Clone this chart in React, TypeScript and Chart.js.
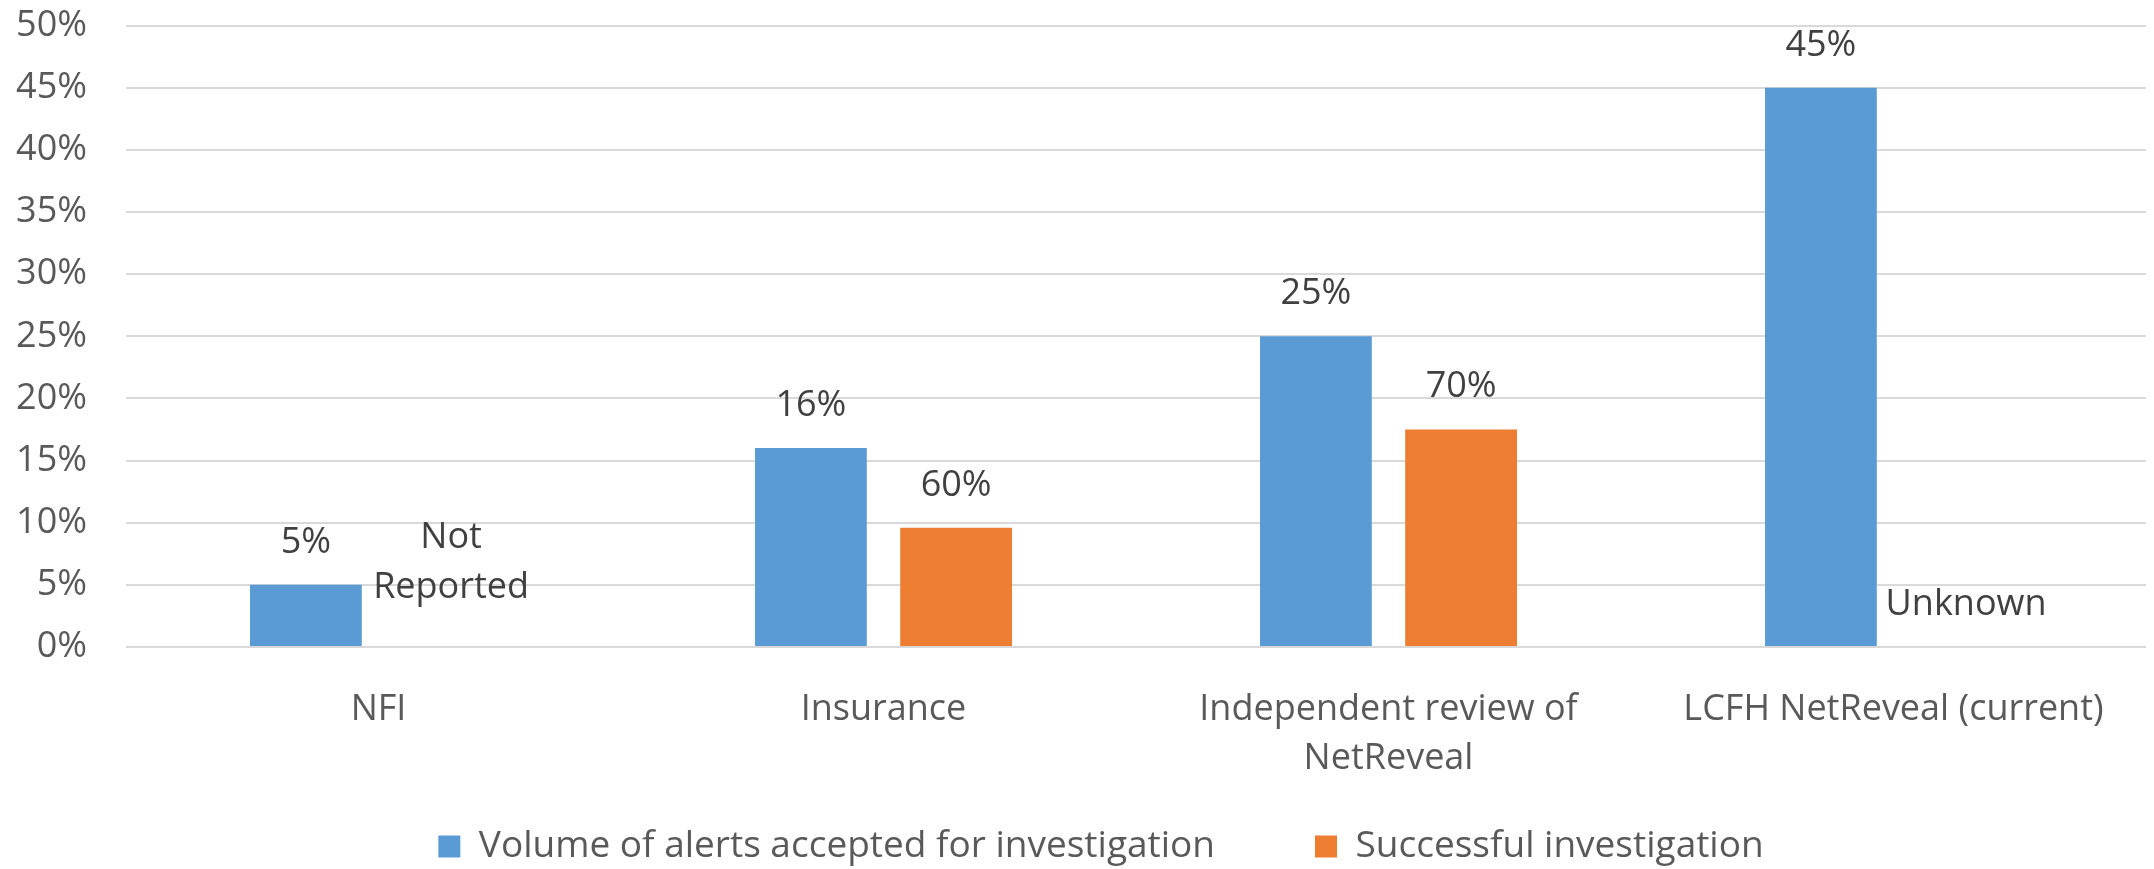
import React, { useEffect, useRef } from "react";
import { Chart, registerables } from "chart.js";

Chart.register(...registerables);

const categories: (string | string[])[] = [
  "NFI",
  "Insurance",
  ["Independent review of", "NetReveal"],
  "LCFH NetReveal (current)",
];
const volumeValues = [5, 16, 25, 45];
const volumeLabels: (string | string[])[] = ["5%", "16%", "25%", "45%"];
const successValues = [0, 9.6, 17.5, 0];
const successLabels: (string | string[])[] = [["Not", "Reported"], "60%", "70%", "Unknown"];
const seriesNames = ["Volume of alerts accepted for investigation", "Successful investigation"];
const yTicks = { min: 0, max: 50, step: 5 };

const FONT = "'Open Sans', 'Noto Sans', sans-serif";

const dataLabelPlugin = {
  id: "dataLabels",
  afterLayout(chart: any) {
    // widen label clip areas so tick text is not cut
    chart.scales.y.left = 0;
    chart.scales.x.bottom = chart.height;
  },
  afterDatasetsDraw(chart: any) {
    const ctx = chart.ctx;
    const allLabels = [volumeLabels, successLabels];
    ctx.save();
    ctx.font = `36px ${FONT}`;
    ctx.fillStyle = "#404040";
    ctx.textAlign = "center";
    ctx.textBaseline = "alphabetic";
    chart.data.datasets.forEach((ds: any, di: number) => {
      const meta = chart.getDatasetMeta(di);
      meta.data.forEach((bar: any, i: number) => {
        const lab = allLabels[di][i];
        const lines = Array.isArray(lab) ? lab : [lab];
        const lh = 50;
        let base = bar.y - 32 - (lines.length > 1 ? 17 : 0);
        for (let k = lines.length - 1; k >= 0; k--) {
          ctx.fillText(lines[k], bar.x, base);
          base -= lh;
        }
      });
    });
    ctx.restore();
  },
};

export default function App() {
  const ref = useRef<HTMLCanvasElement>(null);
  useEffect(() => {
    document.body.style.margin = "0";
    const chart = new Chart(ref.current!, {
      type: "bar",
      data: {
        labels: categories,
        datasets: [
          {
            label: seriesNames[0],
            data: volumeValues,
            backgroundColor: "#5B9BD5",
            categoryPercentage: 0.575,
            barPercentage: 0.77,
          },
          {
            label: seriesNames[1],
            data: successValues,
            backgroundColor: "#ED7D31",
            categoryPercentage: 0.575,
            barPercentage: 0.77,
          },
        ],
      },
      options: {
        responsive: false,
        animation: false,
        layout: { padding: { left: 56, right: 8, top: 0, bottom: -6 } },
        plugins: {
          legend: {
            position: "bottom",
            labels: {
              boxWidth: 22,
              boxHeight: 22,
              padding: 100,
              color: "#595959",
              font: { family: FONT, size: 37 },
            },
          },
          tooltip: { enabled: false },
        },
        scales: {
          x: {
            grid: { display: false, drawTicks: false },
            border: { display: false },
            ticks: {
              color: "#595959",
              font: { family: FONT, size: 36, lineHeight: 1.36 },
              padding: 38,
              maxRotation: 0,
              autoSkip: false,
            },
            afterFit: (scale: any) => {
              scale.height = 81;
            },
          },
          y: {
            min: yTicks.min,
            max: yTicks.max,
            border: { display: false },
            grid: { color: "#D9D9D9", lineWidth: 2, drawTicks: false },
            ticks: {
              stepSize: yTicks.step,
              color: "#595959",
              font: { family: FONT, size: 36 },
              padding: 39,
              callback: (v: any) => v + "%",
            },
            afterFit: (scale: any) => {
              scale.width = 70;
              scale.paddingTop = 25.5;
              scale.paddingBottom = 22;
            },
          },
        },
      },
      plugins: [dataLabelPlugin],
    });
    return () => chart.destroy();
  }, []);
  return <canvas ref={ref} width={2154} height={869} />;
}
